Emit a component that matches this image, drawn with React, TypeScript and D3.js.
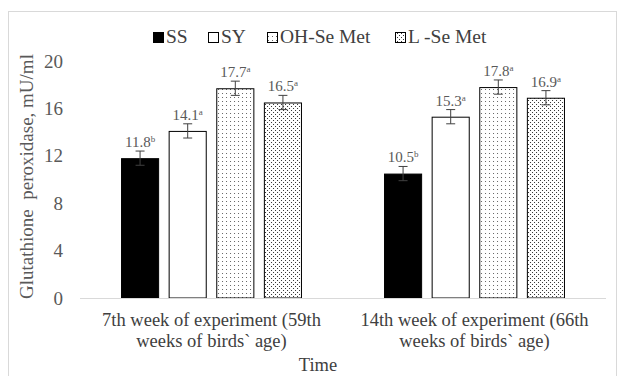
import React from 'react';
import * as d3 from 'd3';

const groups = ['g1', 'g2'];
const groupLines = [
  ['7th week of experiment (59th', 'weeks of birds` age)'],
  ['14th week of experiment (66th', 'weeks of birds` age)'],
];
const seriesNames = ['SS', 'SY', 'OH-Se Met', 'L -Se Met'];
const values = [
  [11.8, 14.1, 17.7, 16.5],
  [10.5, 15.3, 17.8, 16.9],
];
const errors = [
  [0.6, 0.6, 0.6, 0.6],
  [0.6, 0.6, 0.6, 0.6],
];
const letters = [
  ['b', 'a', 'a', 'a'],
  ['b', 'a', 'a', 'a'],
];
const yTicks = [0, 4, 8, 12, 16, 20];

const fills = ['#000', '#fff', 'url(#dotsSparse)', 'url(#dotsDense)'];
const legendX = [153, 208, 267, 395];
const font = '"Liberation Serif", "Times New Roman", serif';

const W = 620;
const H = 376;
const m = { left: 80, right: 14, top: 61, bottom: 78 };

export default function App() {
  const x0 = d3.scaleBand().domain(groups).range([m.left, W - m.right]).paddingInner(0.312).paddingOuter(0.156);
  const x1 = d3.scaleBand().domain(seriesNames).range([0, x0.bandwidth()]).paddingInner(0.2);
  const y = d3.scaleLinear().domain([0, 20]).range([H - m.bottom, m.top]);

  return (
    <div style={{ position: 'absolute', left: 0, top: 0 }}>
      <svg width={W} height={H} fontFamily={font} style={{ display: 'block', background: '#fff' }}>
        <defs>
          <pattern id="dotsSparse" width={4} height={4} patternUnits="userSpaceOnUse">
            <rect width={4} height={4} fill="#fff" />
            <rect x={1} y={1} width={1} height={1} fill="#666" />
          </pattern>
          <pattern id="dotsDense" width={4} height={4} patternUnits="userSpaceOnUse">
            <rect width={4} height={4} fill="#fff" />
            <rect x={0} y={0} width={1} height={1} fill="#333" />
            <rect x={2} y={2} width={1} height={1} fill="#333" />
          </pattern>
        </defs>
        <rect x={8.5} y={11.5} width={608} height={H + 10} fill="none" stroke="#d9d9d9" />

        {/* legend */}
        {seriesNames.map((s, i) => (
          <g key={s} transform={`translate(${legendX[i]},43)`}>
            <rect x={0.5} y={-10.5} width={10} height={10} fill={fills[i]} stroke="#000" strokeWidth={1} />
            <text x={13} y={0} fontFamily={font} fontSize={19.5} fill="#404040">{s}</text>
          </g>
        ))}

        {/* y axis ticks */}
        {yTicks.map(t => (
          <text key={t} x={63} y={y(t) + 6.5} fontFamily={font} fontSize={19} fill="#595959" textAnchor="end">{t}</text>
        ))}
        <text
          transform={`translate(33,${(y(0) + y(20)) / 2 - 3}) rotate(-90)`}
          textAnchor="middle"
          fontFamily={font}
          fontSize={19}
          fill="#595959"
          style={{ whiteSpace: 'pre' }}
        >
          {'Glutathione  peroxidase, mU/ml'}
        </text>

        {/* bars */}
        {groups.map((g, gi) => (
          <g key={g} transform={`translate(${x0(g)},0)`}>
            {seriesNames.map((s, si) => {
              const v = values[gi][si];
              const e = errors[gi][si];
              const bx = x1(s)!;
              const bw = x1.bandwidth();
              const cx = bx + bw / 2;
              return (
                <g key={s}>
                  <rect x={bx + 0.5} y={y(v) + 0.5} width={bw - 1} height={y(0) - y(v) - 0.5} fill={fills[si]} stroke="#000" strokeWidth={1} />
                  <line x1={cx} x2={cx} y1={y(v + e)} y2={y(v - e)} stroke="#404040" strokeWidth={1} />
                  <line x1={cx - 4.5} x2={cx + 4.5} y1={y(v + e)} y2={y(v + e)} stroke="#404040" strokeWidth={1} />
                  <line x1={cx - 4.5} x2={cx + 4.5} y1={y(v - e)} y2={y(v - e)} stroke="#404040" strokeWidth={1} />
                  <text x={cx} y={y(v + e) - 4} textAnchor="middle" fontFamily={font} fontSize={15} fill="#595959">
                    {v.toFixed(1)}
                    <tspan fontSize={9} dy={-5}>{letters[gi][si]}</tspan>
                  </text>
                </g>
              );
            })}
          </g>
        ))}

        {/* x axis */}
        <line x1={m.left} x2={W - m.right} y1={y(0) + 0.5} y2={y(0) + 0.5} stroke="#d9d9d9" />
        {groups.map((g, gi) => (
          <text key={g} x={x0(g)! + x0.bandwidth() / 2} y={y(0) + 28} textAnchor="middle" fontFamily={font} fontSize={18.5} fill="#404040">
            {groupLines[gi].map((l, li) => (
              <tspan key={li} x={x0(g)! + x0.bandwidth() / 2} dy={li === 0 ? 0 : 21}>{l}</tspan>
            ))}
          </text>
        ))}
        <text x={318} y={H - 5} textAnchor="middle" fontFamily={font} fontSize={18.5} fill="#404040">Time</text>
      </svg>
    </div>
  );
}
